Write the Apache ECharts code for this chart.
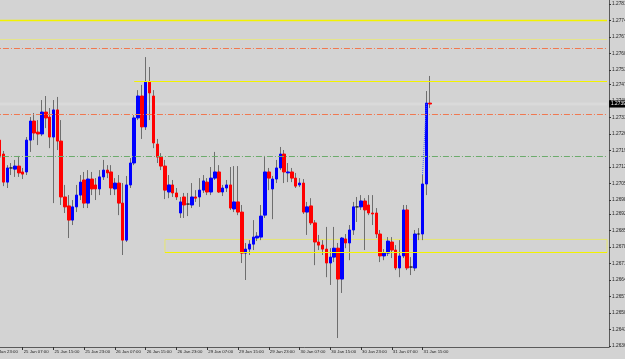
<!DOCTYPE html>
<html><head><meta charset="utf-8">
<script src="https://cdn.jsdelivr.net/npm/echarts@6/dist/echarts.min.js"></script>
<style>html,body{margin:0;padding:0;background:#d3d3d3}#c{width:625px;height:359px}</style>
</head><body><div id="c"></div>
<script>
// hourly bars: 25 Jan 01:00 .. 31 Jan 17:00
const days = [['25 Jan',1,23],['26 Jan',0,23],['29 Jan',0,23],['30 Jan',0,23],['31 Jan',0,17]];
const openV = [1.27233,1.27174,1.27055,1.27115,1.27110,1.27123,1.27098,1.27098,1.27233,1.27314,
1.27267,1.27259,1.27352,1.27331,1.27246,1.27361,1.27229,1.26992,1.26954,1.26894,
1.26950,1.27000,1.27064,1.26966,1.27068,1.27043,1.27026,1.27077,1.27106,1.27098,
1.27026,1.27051,1.26966,1.26809,1.27043,1.27136,1.27327,1.27420,1.27289,1.27479,
1.27420,1.27216,1.27161,1.27123,1.27013,1.27043,1.27009,1.26924,1.26992,1.26962,
1.26958,1.26992,1.26992,1.27021,1.27055,1.27013,1.27072,1.27098,1.27013,1.27030,
1.27043,1.26941,1.26971,1.26928,1.26754,1.26771,1.26792,1.26818,1.26822,1.26915,
1.27098,1.27026,1.27068,1.27115,1.27174,1.27094,1.27098,1.27072,1.27043,1.27051,
1.26928,1.26954,1.26882,1.26801,1.26788,1.26771,1.26712,1.26737,1.26775,1.26644,
1.26814,1.26797,1.26852,1.26950,1.26950,1.26975,1.26958,1.26924,1.26924,1.26835,
1.26742,1.26754,1.26801,1.26767,1.26691,1.26742,1.26937,1.26695,1.26691,1.26835,
1.26835,1.27047,1.27390];
const closeV = [1.27161,1.27055,1.27115,1.27115,1.27123,1.27094,1.27089,1.27233,1.27314,1.27263,
1.27259,1.27352,1.27327,1.27246,1.27361,1.27229,1.26992,1.26950,1.26894,1.26950,
1.27000,1.27055,1.26966,1.27068,1.27026,1.27026,1.27077,1.27106,1.27094,1.27030,
1.27051,1.26966,1.26809,1.27043,1.27136,1.27327,1.27420,1.27289,1.27479,1.27433,
1.27221,1.27161,1.27123,1.27021,1.27043,1.27009,1.26992,1.26971,1.26958,1.26962,
1.26992,1.26987,1.27021,1.27060,1.27013,1.27072,1.27098,1.27013,1.27030,1.27043,
1.26945,1.26971,1.26928,1.26754,1.26771,1.26792,1.26822,1.26826,1.26911,1.27098,
1.27072,1.27068,1.27115,1.27174,1.27098,1.27098,1.27072,1.27038,1.27051,1.26928,
1.26950,1.26882,1.26801,1.26788,1.26771,1.26712,1.26737,1.26775,1.26644,1.26818,
1.26797,1.26852,1.26950,1.26950,1.26975,1.26937,1.26924,1.26920,1.26835,1.26742,
1.26754,1.26805,1.26767,1.26691,1.26742,1.26937,1.26691,1.26695,1.26835,1.26835,
1.27047,1.27390,1.27386];
const lowV = [1.27140,1.27038,1.27030,1.27085,1.27077,1.27077,1.27068,1.27085,1.27183,1.27233,
1.27212,1.27250,1.27284,1.27199,1.26966,1.27191,1.26958,1.26924,1.26818,1.26873,
1.26928,1.26979,1.26945,1.26945,1.27000,1.26979,1.27000,1.27064,1.27072,1.27000,
1.27000,1.26915,1.26746,1.26801,1.27030,1.27127,1.27318,1.27238,1.27276,1.27318,
1.27199,1.27136,1.27106,1.26983,1.26987,1.26992,1.26979,1.26903,1.26903,1.26911,
1.26945,1.26971,1.26950,1.27009,1.27000,1.27000,1.27064,1.27009,1.26996,1.27013,
1.26937,1.26928,1.26915,1.26712,1.26640,1.26746,1.26767,1.26805,1.26809,1.26903,
1.27021,1.26898,1.27051,1.27106,1.27051,1.27055,1.27055,1.27030,1.27034,1.26920,
1.26831,1.26873,1.26703,1.26767,1.26746,1.26652,1.26619,1.26716,1.26394,1.26585,
1.26775,1.26724,1.26831,1.26886,1.26937,1.26767,1.26915,1.26873,1.26818,1.26716,
1.26724,1.26742,1.26733,1.26682,1.26652,1.26733,1.26682,1.26661,1.26678,1.26809,
1.26809,1.27000,1.27369];
const highV = [1.27284,1.27187,1.27127,1.27136,1.27149,1.27166,1.27115,1.27246,1.27331,1.27348,
1.27318,1.27403,1.27420,1.27369,1.27403,1.27416,1.27318,1.27043,1.27000,1.26979,
1.27043,1.27085,1.27098,1.27106,1.27098,1.27072,1.27106,1.27149,1.27127,1.27127,
1.27072,1.27085,1.27051,1.27081,1.27157,1.27339,1.27445,1.27467,1.27585,1.27543,
1.27445,1.27238,1.27178,1.27149,1.27085,1.27064,1.27030,1.26992,1.27009,1.27009,
1.27051,1.27021,1.27072,1.27085,1.27072,1.27119,1.27183,1.27127,1.27043,1.27064,
1.27119,1.27123,1.27123,1.26958,1.26797,1.26809,1.26894,1.26843,1.26958,1.27166,
1.27115,1.27081,1.27149,1.27204,1.27191,1.27136,1.27115,1.27094,1.27072,1.27068,
1.26971,1.26987,1.26894,1.26831,1.26809,1.26865,1.26775,1.26865,1.26797,1.26822,
1.26835,1.26873,1.26971,1.26992,1.27000,1.26987,1.27000,1.27000,1.26945,1.26852,
1.26771,1.26822,1.26822,1.26788,1.26809,1.26958,1.26958,1.26737,1.26852,1.26860,
1.27085,1.27441,1.27505];
const priceTicks = [1.2636,1.2643,1.2650,1.2657,1.2664,1.2671,1.2678,1.2685,1.2692,1.2698,1.2705,
1.2712,1.2719,1.2726,1.2733,1.2740,1.2747,1.2753,1.2760,1.2767,1.2774,1.2781];
const levelSolid = 1.27740;
const levelLight = 1.27660;
const levelsDashRed = [1.27621, 1.27342];
const levelDashGreen = 1.27164;
const levelYellowPartial = 1.27482;
const zoneTop = 1.26812, zoneBottom = 1.26757;
const bidPrice = 1.27386, bidLabel = '1.2739';
const bidBand = [1.27393, 1.27380];
const tradeFrom = 1.27085, tradeTo = 1.27391;

// categories
const cats = ['24 Jan 23:00', '25 Jan 00:00'];
days.forEach(([d, h0, h1]) => { for (let h = h0; h <= h1; h++) cats.push(d + ' ' + String(h).padStart(2,'0') + ':00'); });
const lead = 2;
const nBars = openV.length;
const totalCats = 161;
while (cats.length < totalCats) cats.push('');

const wickData = [], bodyData = [];
for (let k = 0; k < totalCats; k++) {
  const i = k - lead;
  if (i >= 0 && i < nBars) {
    const o = openV[i], c = closeV[i];
    wickData.push([o, c, lowV[i], highV[i]]);
    bodyData.push([o, c, Math.min(o, c), Math.max(o, c)]);
  } else { wickData.push('-'); bodyData.push('-'); }
}
const lastIdx = totalCats - 1;
const FONT = '"Liberation Sans",Arial,sans-serif';
const showLbl = (idx, v) => /(07|15|23):00$/.test(v);
const hline = (v, style, from) => [{xAxis: from || 0, yAxis: v, lineStyle: style}, {xAxis: lastIdx, yAxis: v}];
const dashDot = [6,2,1,2];

const chart = echarts.init(document.getElementById('c'), null, {renderer: 'canvas'});
chart.setOption({
  animation: false,
  backgroundColor: '#d3d3d3',
  grid: {left: -9.98, right: 16, top: 0, bottom: 12, containLabel: false, outerBoundsMode: 'none'},
  xAxis: {
    type: 'category', data: cats, boundaryGap: true,
    axisLine: {show: true, lineStyle: {color: '#5a5a5a', width: 1}},
    axisTick: {show: true, interval: showLbl, alignWithLabel: true, length: 3, lineStyle: {color: '#333'}},
    axisLabel: {interval: showLbl, fontSize: 4.3, fontFamily: FONT, color: '#222', align: 'left', margin: 3, padding: [0,0,0,1]},
    splitLine: {show: false}
  },
  yAxis: {
    type: 'value', position: 'right', scale: true,
    min: 1.26356, max: 1.27827,
    axisLine: {show: true, lineStyle: {color: '#5a5a5a', width: 1}},
    axisTick: {show: true, length: 2, customValues: priceTicks, lineStyle: {color: '#333'}},
    axisLabel: {customValues: priceTicks, formatter: v => v.toFixed(4), fontSize: 4.8, fontFamily: FONT, color: '#222', margin: 3},
    splitLine: {show: false}
  },
  series: [
    {
      type: 'candlestick', data: wickData, barWidth: 1, z: 2,
      itemStyle: {color: '#7a7a7a', color0: '#7a7a7a', borderColor: '#6e6e6e', borderColor0: '#6e6e6e', borderColorDoji: '#6e6e6e', borderWidth: 1},
      markLine: {
        silent: true, symbol: 'none', animation: false,
        label: {show: false},
        data: [
          [{xAxis: 0, yAxis: bidPrice, lineStyle: {color: 'rgba(0,0,0,0)', width: 1},
            label: {show: true, position: 'end', formatter: bidLabel, backgroundColor: '#000', color: '#fff', fontSize: 4.8, fontFamily: FONT, padding: [1,1,1,2], distance: 2}},
           {xAxis: lastIdx, yAxis: bidPrice}],
          hline(levelSolid, {color: '#f2f200', width: 1.3, type: 'solid'}),
          hline(levelLight, {color: '#e4e48a', width: 1, type: 'solid'}),
          ...levelsDashRed.map(v => hline(v, {color: '#f07850', width: 1, type: dashDot})),
          hline(levelDashGreen, {color: '#6cab6c', width: 1, type: dashDot}),
          hline(levelYellowPartial, {color: '#f2f200', width: 1, type: 'solid'}, 35 + lead),
          hline(zoneBottom, {color: '#f2f200', width: 1, type: 'solid'}, 43 + lead),
          [{xAxis: 110 + lead, yAxis: tradeFrom, lineStyle: {color: '#4060ff', width: 1, type: [1,1]}}, {xAxis: 111 + lead, yAxis: tradeTo}]
        ]
      },
      markArea: {
        silent: true,
        data: [
          [{xAxis: 0, yAxis: bidBand[0], itemStyle: {color: '#dadada', borderWidth: 0}}, {xAxis: lastIdx, yAxis: bidBand[1]}],
          [{xAxis: 43 + lead, yAxis: zoneTop, itemStyle: {color: 'rgba(0,0,0,0)', borderColor: '#e6e670', borderWidth: 1}}, {xAxis: lastIdx, yAxis: zoneBottom}]
        ]
      }
    },
    {
      type: 'candlestick', data: bodyData, barWidth: 3, z: 3,
      itemStyle: {color: '#0000ff', color0: '#ff0000', borderColor: '#0000ff', borderColor0: '#ff0000', borderColorDoji: '#2a2a2a', borderWidth: 1}
    }
  ]
});
</script>
</body></html>
